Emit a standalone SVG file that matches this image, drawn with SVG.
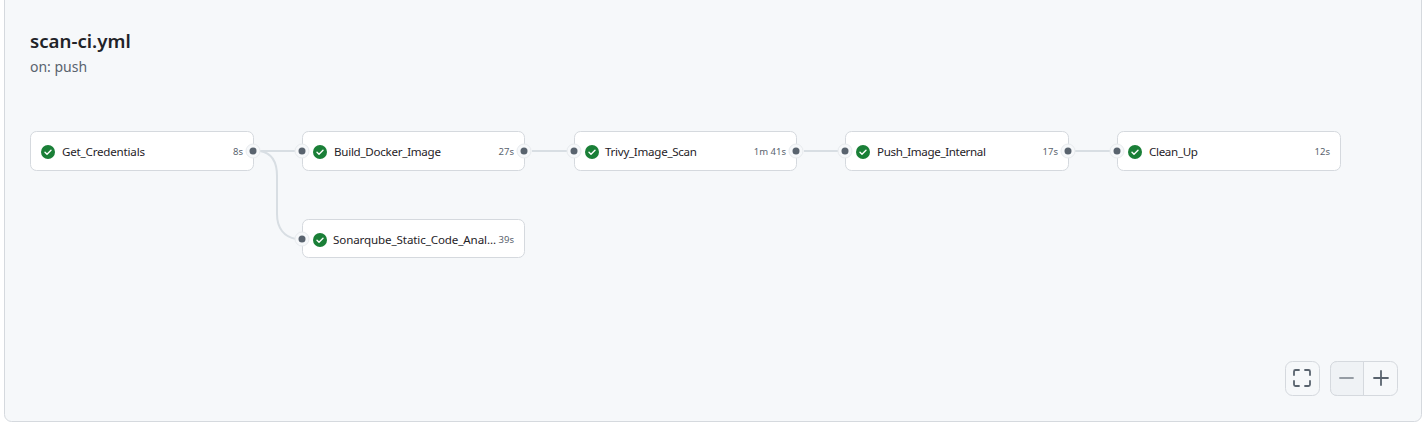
<svg xmlns="http://www.w3.org/2000/svg" xmlns:xlink="http://www.w3.org/1999/xlink" width="1426" height="422" viewBox="0 0 1426 422">
<style>
text{font-family:"Noto Sans","Open Sans","Liberation Sans",sans-serif}
.card{fill:#fff;stroke:#d5d9de;stroke-width:1}
.name{font-size:11.6px;fill:#1f2328}
.time{font-size:9.500px;fill:#59636e;text-anchor:end}
.edge{fill:none;stroke:#d8dee3;stroke-width:2}
.halo{fill:#f6f8fa;stroke:#e8ebee;stroke-width:1}
.dot{fill:#59636e}
.ok{fill:#1a7f37}
.tick{fill:none;stroke:#fff;stroke-width:1.4;stroke-linecap:round;stroke-linejoin:round}
.ctl{fill:#f6f8fa;stroke:#d5d9de;stroke-width:1}
.glyph{fill:none;stroke:#59636e;stroke-width:1.8;stroke-linecap:round;stroke-linejoin:round}
</style>
<defs>
<g id="status"><circle class="ok" r="7"/><path class="tick" d="M-3 0.2L-1 2.2L3 -1.8"/></g>
</defs>
<rect x="4.500" y="-8" width="1417" height="429.500" rx="7" fill="#f6f8fa" stroke="#d5d9de"/>
<g id="title">
<text x="30" y="48" font-size="18.700" font-weight="600" fill="#1f2328">scan-ci.yml</text>
<text x="30" y="72" font-size="14" fill="#59636e">on: push</text>
</g>
<g id="connectors">
<path class="edge" d="M260 151H296"/>
<path class="edge" d="M260 151C272 153 277 162 277 176V214C277 228 284 237 296 239"/>
<path class="edge" d="M532 151H568"/>
<path class="edge" d="M804 151H839"/>
<path class="edge" d="M1075 151H1111"/>
</g>
<g id="node-get-credentials">
<rect class="card" x="30.500" y="131.500" width="223" height="39" rx="6"/>
<circle class="halo" cx="253" cy="151" r="7"/><circle class="dot" cx="253" cy="151" r="3.500"/>
<use xlink:href="#status" x="48" y="152"/>
<text class="name" x="62" y="156" textLength="83">Get_Credentials</text>
<text class="time" x="243" y="155">8s</text>
</g>
<g id="node-build-docker-image">
<rect class="card" x="302.500" y="131.500" width="222" height="39" rx="6"/>
<circle class="halo" cx="302" cy="151" r="7"/><circle class="dot" cx="302" cy="151" r="3.500"/>
<circle class="halo" cx="524" cy="151" r="7"/><circle class="dot" cx="524" cy="151" r="3.500"/>
<use xlink:href="#status" x="320" y="152"/>
<text class="name" x="334" y="156" textLength="107">Build_Docker_Image</text>
<text class="time" x="514" y="155">27s</text>
</g>
<g id="node-sonarqube">
<rect class="card" x="302.500" y="219.500" width="222" height="38" rx="6"/>
<circle class="halo" cx="302" cy="239" r="7"/><circle class="dot" cx="302" cy="239" r="3.500"/>
<use xlink:href="#status" x="320" y="240"/>
<text class="name" x="333" y="244" textLength="163">Sonarqube_Static_Code_Anal...</text>
<text class="time" x="514" y="243">39s</text>
</g>
<g id="node-trivy-image-scan">
<rect class="card" x="574.500" y="131.500" width="222" height="39" rx="6"/>
<circle class="halo" cx="574" cy="151" r="7"/><circle class="dot" cx="574" cy="151" r="3.500"/>
<circle class="halo" cx="796" cy="151" r="7"/><circle class="dot" cx="796" cy="151" r="3.500"/>
<use xlink:href="#status" x="592" y="152"/>
<text class="name" x="605" y="156" textLength="92">Trivy_Image_Scan</text>
<text class="time" x="786" y="155">1m 41s</text>
</g>
<g id="node-push-image-internal">
<rect class="card" x="845.500" y="131.500" width="223" height="39" rx="6"/>
<circle class="halo" cx="845" cy="151" r="7"/><circle class="dot" cx="845" cy="151" r="3.500"/>
<circle class="halo" cx="1068" cy="151" r="7"/><circle class="dot" cx="1068" cy="151" r="3.500"/>
<use xlink:href="#status" x="863" y="152"/>
<text class="name" x="877" y="156" textLength="109">Push_Image_Internal</text>
<text class="time" x="1058" y="155">17s</text>
</g>
<g id="node-clean-up">
<rect class="card" x="1117.500" y="131.500" width="223" height="39" rx="6"/>
<circle class="halo" cx="1117" cy="151" r="7"/><circle class="dot" cx="1117" cy="151" r="3.500"/>
<use xlink:href="#status" x="1135" y="152"/>
<text class="name" x="1149" y="156" textLength="49">Clean_Up</text>
<text class="time" x="1330" y="155">12s</text>
</g>
<g id="controls">
<rect class="ctl" x="1285.500" y="361.500" width="34" height="34" rx="7"/>
<path class="glyph" d="M1294 375V371.500Q1294 370 1295.500 370H1299M1305 370H1308.500Q1310 370 1310 371.500V375M1310 381V384.500Q1310 386 1308.500 386H1305M1299 386H1295.500Q1294 386 1294 384.500V381"/>
<rect class="ctl" x="1330.500" y="361.500" width="67" height="34" rx="7"/>
<path d="M1363.500 361.500H1337.500Q1330.500 361.500 1330.500 368.500V388.500Q1330.500 395.500 1337.500 395.500H1363.500Z" fill="#eff2f5" stroke="#d5d9de"/>
<path class="glyph" d="M1340 378H1353" stroke-opacity="0.6"/>
<path class="glyph" d="M1374 378H1388M1381 371V385"/>
</g>
</svg>
